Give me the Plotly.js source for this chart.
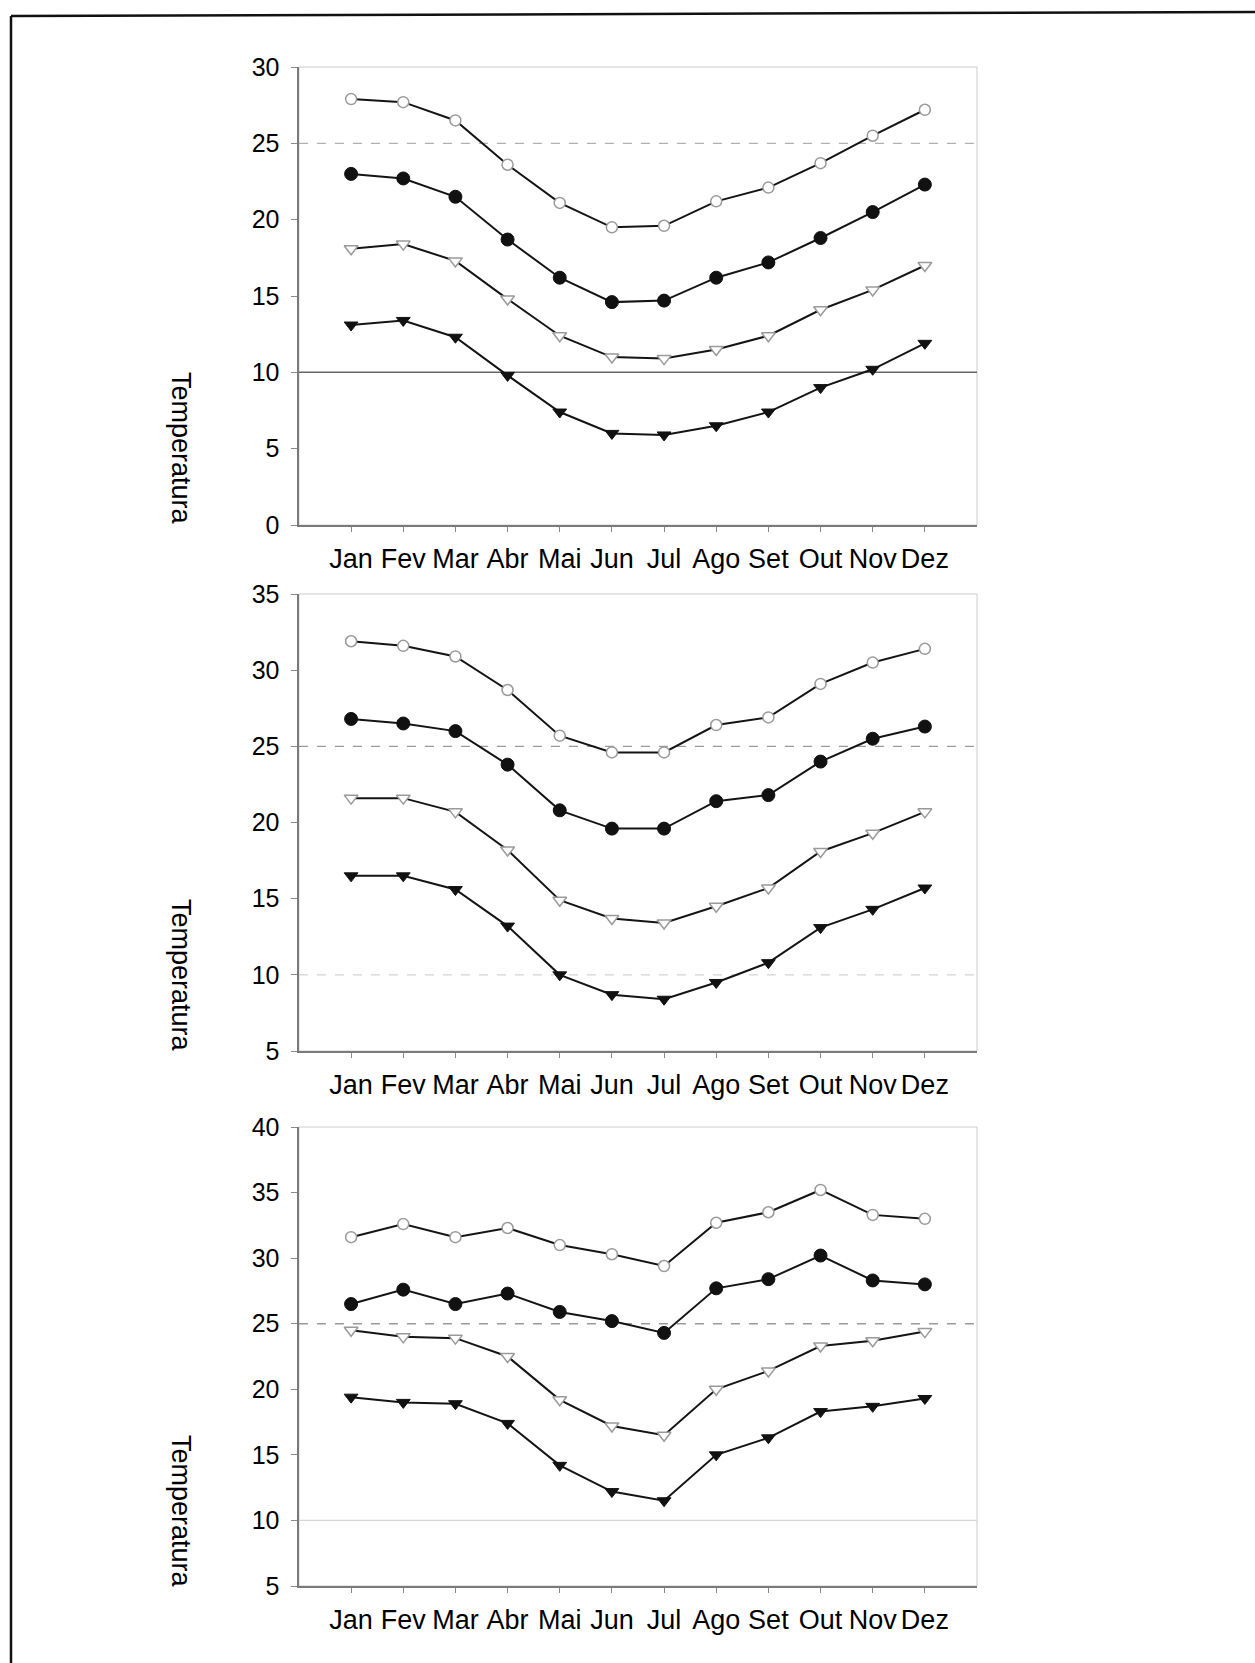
<!DOCTYPE html>
<html>
<head>
<meta charset="utf-8">
<script src="https://cdn.plot.ly/plotly-3.0.1.min.js"></script>
<style>
html,body{margin:0;padding:0;background:#fff;}
#chart{width:1255px;height:1663px;}
</style>
</head>
<body>
<div id="chart"></div>
<script>
// ---- data ----
const months = ["Jan","Fev","Mar","Abr","Mai","Jun","Jul","Ago","Set","Out","Nov","Dez"];

// Panel 1
const p1_openCircle   = [27.9, 27.7, 26.5, 23.6, 21.1, 19.5, 19.6, 21.2, 22.1, 23.7, 25.5, 27.2];
const p1_filledCircle = [23.0, 22.7, 21.5, 18.7, 16.2, 14.6, 14.7, 16.2, 17.2, 18.8, 20.5, 22.3];
const p1_openTri      = [18.1, 18.4, 17.3, 14.8, 12.4, 11.0, 10.9, 11.5, 12.4, 14.1, 15.4, 17.0];
const p1_filledTri    = [13.1, 13.4, 12.3, 9.8, 7.4, 6.0, 5.9, 6.5, 7.4, 9.0, 10.2, 11.9];

// Panel 2
const p2_openCircle   = [31.9, 31.6, 30.9, 28.7, 25.7, 24.6, 24.6, 26.4, 26.9, 29.1, 30.5, 31.4];
const p2_filledCircle = [26.8, 26.5, 26.0, 23.8, 20.8, 19.6, 19.6, 21.4, 21.8, 24.0, 25.5, 26.3];
const p2_openTri      = [21.6, 21.6, 20.7, 18.2, 14.9, 13.7, 13.4, 14.5, 15.7, 18.1, 19.3, 20.7];
const p2_filledTri    = [16.5, 16.5, 15.6, 13.2, 10.0, 8.7, 8.4, 9.5, 10.8, 13.1, 14.3, 15.7];

// Panel 3
const p3_openCircle   = [31.6, 32.6, 31.6, 32.3, 31.0, 30.3, 29.4, 32.7, 33.5, 35.2, 33.3, 33.0];
const p3_filledCircle = [26.5, 27.6, 26.5, 27.3, 25.9, 25.2, 24.3, 27.7, 28.4, 30.2, 28.3, 28.0];
const p3_openTri      = [24.5, 24.0, 23.9, 22.5, 19.2, 17.2, 16.5, 20.0, 21.4, 23.3, 23.7, 24.4];
const p3_filledTri    = [19.4, 19.0, 18.9, 17.4, 14.2, 12.2, 11.5, 15.0, 16.3, 18.3, 18.7, 19.3];

// y-axis ranges
const p1_range = [0, 30];
const p2_range = [5, 35];
const p3_range = [5, 40];

// reference temperatures
const refLow = 10;
const refHigh = 25;

const yTitle = "Temperatura";

// ---- styles ----
const FONT = "Liberation Sans, Arial, sans-serif";
const lineStyle = {color: "#141414", width: 2};
const styles = {
  openCircle:   {symbol: "circle", size: 11, color: "#ffffff", line: {color: "#9a9a9a", width: 1.5}},
  filledCircle: {symbol: "circle", size: 13, color: "#111111", line: {color: "#111111", width: 1}},
  openTri:      {symbol: "triangle-down", size: 12, color: "#ffffff", line: {color: "#9a9a9a", width: 1.5}},
  filledTri:    {symbol: "triangle-down", size: 12, color: "#111111", line: {color: "#111111", width: 1}}
};

const panels = [
  {xa: "x",  ya: "y",  range: p1_range, series: [p1_openCircle, p1_filledCircle, p1_openTri, p1_filledTri],
   dom: [0.6843, 0.9597], titleY: 0.7300,
   lowLine: {color: "#666666", width: 1.5, dash: "solid"}, highLine: {color: "#b0b0b0", width: 1.3, dash: "dash"}},
  {xa: "x2", ya: "y2", range: p2_range, series: [p2_openCircle, p2_filledCircle, p2_openTri, p2_filledTri],
   dom: [0.3680, 0.6428], titleY: 0.4131,
   lowLine: {color: "#d4d4d4", width: 1.3, dash: "dash"}, highLine: {color: "#9a9a9a", width: 1.3, dash: "dash"}},
  {xa: "x3", ya: "y3", range: p3_range, series: [p3_openCircle, p3_filledCircle, p3_openTri, p3_filledTri],
   dom: [0.0463, 0.3223], titleY: 0.0908,
   lowLine: {color: "#d6d6d6", width: 1.3, dash: "solid"}, highLine: {color: "#9a9a9a", width: 1.3, dash: "dash"}}
];
const seriesKeys = ["openCircle", "filledCircle", "openTri", "filledTri"];

const traces = [];
const shapes = [];
const annotations = [];
const layout = {
  width: 1255, height: 1663, autosize: false,
  margin: {l: 0, r: 0, t: 0, b: 0},
  paper_bgcolor: "#ffffff", plot_bgcolor: "#ffffff",
  showlegend: false,
  font: {family: FONT, color: "#000000"}
};

panels.forEach((p, i) => {
  p.series.forEach((vals, k) => {
    traces.push({
      type: "scatter", mode: "lines+markers",
      x: months, y: vals,
      xaxis: p.xa, yaxis: p.ya,
      line: lineStyle,
      marker: styles[seriesKeys[k]],
      hoverinfo: "skip"
    });
  });
  const xKey = i === 0 ? "xaxis" : "xaxis" + (i + 1);
  const yKey = i === 0 ? "yaxis" : "yaxis" + (i + 1);
  layout[xKey] = {
    type: "category", range: [-1, 12],
    domain: [0.2382, 0.7785], anchor: p.ya,
    showgrid: false, zeroline: false,
    showline: true, linecolor: "#7a7a7a", linewidth: 1.5,
    ticks: "outside", ticklen: 5, tickcolor: "#8a8a8a", tickwidth: 1,
    tickfont: {family: FONT, size: 27, color: "#000000"},
    ticklabelstandoff: 4
  };
  layout[yKey] = {
    range: p.range, tick0: 0, dtick: 5,
    domain: p.dom, anchor: p.xa,
    showgrid: false, zeroline: false,
    showline: true, linecolor: "#7a7a7a", linewidth: 1.5,
    ticks: "outside", ticklen: 6, tickcolor: "#8a8a8a", tickwidth: 1,
    tickfont: {family: FONT, size: 25, color: "#000000"},
    ticklabelstandoff: 7
  };
  // plot area border (light)
  shapes.push({type: "rect", xref: p.xa + " domain", yref: p.ya + " domain",
    x0: 0, x1: 1, y0: 0, y1: 1, line: {color: "#cccccc", width: 1}, layer: "below"});
  // reference lines
  shapes.push({type: "line", xref: p.xa + " domain", yref: p.ya,
    x0: 0, x1: 1, y0: refLow, y1: refLow, line: p.lowLine, layer: "below"});
  shapes.push({type: "line", xref: p.xa + " domain", yref: p.ya,
    x0: 0, x1: 1, y0: refHigh, y1: refHigh, line: p.highLine, layer: "below"});
  annotations.push({
    text: yTitle, xref: "paper", yref: "paper",
    x: 0.1442, y: p.titleY, xanchor: "center", yanchor: "middle",
    textangle: 90, showarrow: false,
    font: {family: FONT, size: 27, color: "#000000"}
  });
});

// outer frame (left and top edges)
shapes.push({type: "line", xref: "paper", yref: "paper", x0: 11/1255, x1: 1, y0: 1 - 16/1663, y1: 1 - 12/1663,
  line: {color: "#111111", width: 2.5}});
shapes.push({type: "line", xref: "paper", yref: "paper", x0: 11/1255, x1: 11/1255, y0: 0, y1: 1 - 16/1663,
  line: {color: "#111111", width: 2.5}});

layout.shapes = shapes;
layout.annotations = annotations;

Plotly.newPlot("chart", traces, layout, {displayModeBar: false, staticPlot: true});
</script>
</body>
</html>
